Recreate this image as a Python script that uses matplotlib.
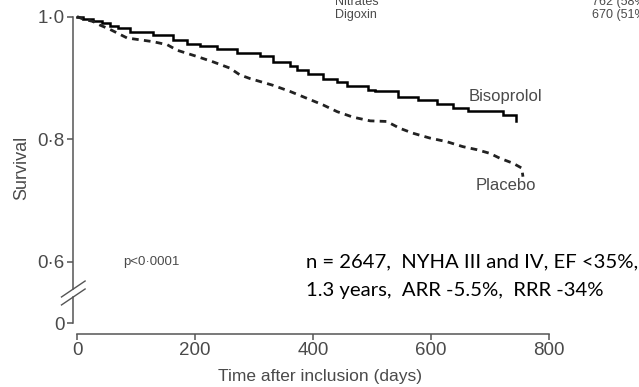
import matplotlib
matplotlib.use("Agg")
import matplotlib.pyplot as plt

# Kaplan-Meier survival, bisoprolol vs placebo
biso_days = [0, 10, 27, 42, 56, 69, 90, 129, 163, 186, 208, 237, 271, 310, 332,
             361, 373, 392, 417, 441, 458, 493, 505, 544, 578, 610, 637, 663, 722, 744]
biso_surv = [1.0, 0.996, 0.992, 0.989, 0.985, 0.981, 0.974, 0.970, 0.962, 0.956,
             0.952, 0.947, 0.941, 0.935, 0.926, 0.919, 0.913, 0.906, 0.899, 0.894,
             0.887, 0.881, 0.878, 0.869, 0.864, 0.857, 0.851, 0.846, 0.840, 0.829]

placebo_days = [0, 10, 27, 39, 56, 85, 129, 153, 170, 203, 231, 259, 276, 293, 332,
                361, 389, 417, 441, 468, 497, 525, 547, 569, 598, 627, 654, 678, 700,
                717, 739, 754, 756]
placebo_surv = [1.0, 0.996, 0.992, 0.986, 0.979, 0.965, 0.959, 0.954, 0.945, 0.935,
                0.926, 0.916, 0.905, 0.899, 0.888, 0.878, 0.867, 0.856, 0.845, 0.836,
                0.830, 0.829, 0.818, 0.810, 0.802, 0.796, 0.788, 0.783, 0.777, 0.769,
                0.761, 0.753, 0.739]

x_ticks = [0, 200, 400, 600, 800]
y_ticks = [0.5, 0.6, 0.8, 1.0]          # 0.5 stands in for 0 below the axis break
y_tick_labels = ["0", "0\u00b76", "0\u00b78", "1\u00b70"]

AXIS_GREY = "#555555"
TEXT_GREY = "#4a4a4a"
FONT = "Liberation Sans"

fig = plt.figure(figsize=(6.39, 3.87), dpi=100)
ax = fig.add_axes([0.1147, 0.137, 0.772, 0.8203])
ax.set_xlim(-6.3, 830)
ax.set_ylim(0.4827, 1.0)

ax.plot(biso_days, biso_surv, drawstyle="steps-post", color="black", lw=1.8,
        solid_joinstyle="miter", clip_on=False)
ax.plot(placebo_days, placebo_surv, color="#222222", lw=2.0,
        linestyle=(0, (2.4, 1.9)), clip_on=False)

for side in ["top", "right", "left"]:
    ax.spines[side].set_visible(False)
ax.spines["bottom"].set_bounds(0, 800)
ax.spines["bottom"].set_color(AXIS_GREY)
ax.spines["bottom"].set_linewidth(1.1)

# left axis drawn in two pieces with a break between 0 and 0.6
brk = 0.5495
gap = 0.0065
ax.plot([-6.3, -6.3], [0.5, brk - gap], color=AXIS_GREY, lw=1.1, clip_on=False)
ax.plot([-6.3, -6.3], [brk + gap, 1.0], color=AXIS_GREY, lw=1.1, clip_on=False)
for off in (-gap, gap):
    ax.plot([-26.3, 13.7], [brk + off - 0.013, brk + off + 0.013],
            color=AXIS_GREY, lw=1.0, clip_on=False)

ax.set_xticks(x_ticks)
ax.set_yticks(y_ticks)
ax.set_yticklabels(y_tick_labels)
ax.tick_params(axis="both", direction="out", length=4, width=1.1, color=AXIS_GREY,
               labelcolor=TEXT_GREY, labelsize=13.5, pad=2)
for lab in ax.get_xticklabels() + ax.get_yticklabels():
    lab.set_fontfamily(FONT)

ax.set_xlabel("Time after inclusion (days)", fontsize=12.5, color=TEXT_GREY,
              fontfamily=FONT, labelpad=7)
ax.set_ylabel("Survival", fontsize=13, color=TEXT_GREY, fontfamily=FONT)
ax.yaxis.set_label_coords(-0.088, 0.523)

ax.text(biso_days[-1] - 80, 0.87, "Bisoprolol", fontsize=12, color=TEXT_GREY,
        fontfamily=FONT, ha="left", va="center")
ax.text(placebo_days[-1] - 80, 0.725, "Placebo", fontsize=12, color=TEXT_GREY,
        fontfamily=FONT, ha="left", va="center")
ax.text(78, 0.6, "p<0\u00b70001", fontsize=9.5, color=TEXT_GREY, fontfamily=FONT,
        ha="left", va="center")

ax.text(388, 0.6, "n = 2647,  NYHA III and IV, EF <35%,", fontsize=14.6,
        color="black", fontfamily="Lato", ha="left", va="center")
ax.text(388, 0.553, "1.3 years,  ARR -5.5%,  RRR -34%", fontsize=14.6,
        color="black", fontfamily="Lato", ha="left", va="center")

# remains of the baseline table above the plot
fig.text(335 / 639, 1 - 2 / 387, "Nitrates", fontsize=9, color=TEXT_GREY,
         fontfamily=FONT, va="center")
fig.text(335 / 639, 1 - 15 / 387, "Digoxin", fontsize=9, color=TEXT_GREY,
         fontfamily=FONT, va="center")
fig.text(592 / 639, 1 - 2 / 387, "762 (58%)", fontsize=9, color=TEXT_GREY,
         fontfamily=FONT, va="center")
fig.text(592 / 639, 1 - 15 / 387, "670 (51%)", fontsize=9, color=TEXT_GREY,
         fontfamily=FONT, va="center")

fig.savefig("out.png", dpi=100)
